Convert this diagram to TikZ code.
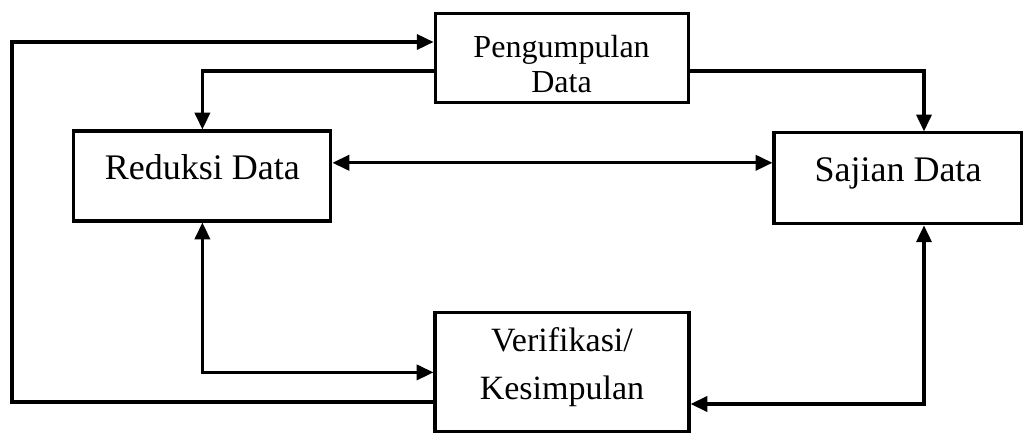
\documentclass[tikz,border=0pt]{standalone}
\usepackage{fontspec}
\setmainfont{Liberation Serif}
\usepackage{tikz}
\usetikzlibrary{arrows.meta, positioning, calc}

\begin{document}
\begin{tikzpicture}[
    arr/.style={-{Triangle[length=0.42cm, width=0.38cm]}, line width=2.2pt},
    dbl/.style={{Triangle[length=0.42cm, width=0.38cm]}-{Triangle[length=0.42cm, width=0.38cm]}, line width=2.2pt},
    box/.style={draw, line width=2.2pt, align=center, inner sep=0pt}
  ]
    \useasboundingbox (0, 0) rectangle (25.575, 10.85);
    \node[box, minimum width=6.325cm, minimum height=2.225cm, text height=1.73cm,
          font=\fontsize{22.8}{24.9}\selectfont]
      (peng) at (14.04, 9.41) {Pengumpulan\\Data};
    \node[box, minimum width=6.425cm, minimum height=2.25cm, text depth=0.45cm,
          font=\fontsize{25.6}{30}\selectfont]
      (reduksi) at (5.06, 6.45) {Reduksi Data};
    \node[box, minimum width=6.2cm, minimum height=2.275cm, text depth=0.45cm,
          font=\fontsize{25.6}{30}\selectfont]
      (sajian) at (22.45, 6.39) {Sajian Data};
    \node[box, minimum width=6.35cm, minimum height=2.975cm, text depth=0.44cm,
          font=\fontsize{24.2}{34.1}\selectfont]
      (verif) at (14.05, 1.54) {Verifikasi/\\Kesimpulan};
    \coordinate (loop) at (0.3, 9.8);

    \draw[arr] ([yshift=-0.74cm]verif.west) -| (loop) -- (loop -| peng.west);
    \draw[arr] ([yshift=-0.335cm]peng.west) -| (reduksi.north);
    \draw[arr] ([yshift=-0.335cm]peng.east) -| ([xshift=0.65cm]sajian.north);
    \draw[dbl] ([yshift=0.33cm]reduksi.east) -- ([yshift=0.33cm]reduksi.east -| sajian.west);
    \draw[dbl] (reduksi.south) |- (verif.west);
    \draw[dbl] ([xshift=0.65cm]sajian.south) |- ([yshift=-0.79cm]verif.east);
  \end{tikzpicture}
\end{document}
